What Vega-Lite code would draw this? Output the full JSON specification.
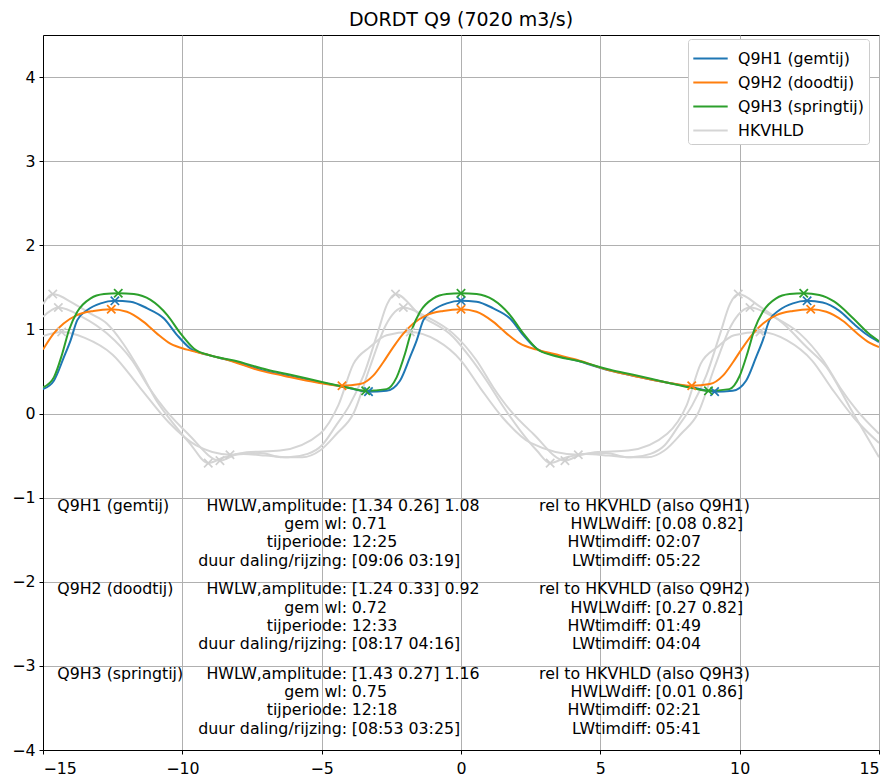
{
  "$schema": "https://vega.github.io/schema/vega-lite/v6.json",
  "width": 836,
  "height": 715,
  "autosize": {"type": "none"},
  "padding": {"left": 43, "top": 35, "right": 11, "bottom": 28},
  "background": "white",
  "title": {"text": "DORDT Q9 (7020 m3/s)", "font": "DejaVu Sans", "fontSize": 19, "fontWeight": "normal", "color": "black", "offset": 5},
  "config": {
    "view": {"stroke": "black", "strokeWidth": 1},
    "axis": {"domainColor": "black", "domainWidth": 1, "tickColor": "black", "tickWidth": 1, "tickSize": 4, "labelColor": "black", "labelFont": "DejaVu Sans", "labelFontSize": 15.8, "labelPadding": 4, "gridColor": "#b0b0b0", "gridWidth": 1, "title": null},
    "axisX": {"labelPadding": 7},
    "legend": {"orient": "none", "legendX": 645, "legendY": 4, "labelFont": "DejaVu Sans", "labelFontSize": 15.8, "labelColor": "black", "symbolType": "M-1.3,0H1.3", "symbolStrokeWidth": 2, "symbolSize": 700, "symbolOffset": 3, "fillColor": "white", "strokeColor": "#cccccc", "cornerRadius": 3, "padding": 5, "rowPadding": 1, "labelOffset": 13, "title": null}
  },
  "datasets": {
    "lines": [
      {"s":"Q1","label":"Q9H1 (gemtij)","x":-15.0,"y":0.29},{"s":"Q1","label":"Q9H1 (gemtij)","x":-14.61,"y":0.39},{"s":"Q1","label":"Q9H1 (gemtij)","x":-14.25,"y":0.67},{"s":"Q1","label":"Q9H1 (gemtij)","x":-14.01,"y":0.87},{"s":"Q1","label":"Q9H1 (gemtij)","x":-13.77,"y":1.11},{"s":"Q1","label":"Q9H1 (gemtij)","x":-13.41,"y":1.23},{"s":"Q1","label":"Q9H1 (gemtij)","x":-12.93,"y":1.31},{"s":"Q1","label":"Q9H1 (gemtij)","x":-12.42,"y":1.34},{"s":"Q1","label":"Q9H1 (gemtij)","x":-11.86,"y":1.33},{"s":"Q1","label":"Q9H1 (gemtij)","x":-11.26,"y":1.25},{"s":"Q1","label":"Q9H1 (gemtij)","x":-10.66,"y":1.13},{"s":"Q1","label":"Q9H1 (gemtij)","x":-10.18,"y":0.93},{"s":"Q1","label":"Q9H1 (gemtij)","x":-9.70,"y":0.77},{"s":"Q1","label":"Q9H1 (gemtij)","x":-9.11,"y":0.70},{"s":"Q1","label":"Q9H1 (gemtij)","x":-8.27,"y":0.63},{"s":"Q1","label":"Q9H1 (gemtij)","x":-7.07,"y":0.51},{"s":"Q1","label":"Q9H1 (gemtij)","x":-6.24,"y":0.45},{"s":"Q1","label":"Q9H1 (gemtij)","x":-5.04,"y":0.37},{"s":"Q1","label":"Q9H1 (gemtij)","x":-4.08,"y":0.31},{"s":"Q1","label":"Q9H1 (gemtij)","x":-3.32,"y":0.26},{"s":"Q1","label":"Q9H1 (gemtij)","x":-2.67,"y":0.27},{"s":"Q1","label":"Q9H1 (gemtij)","x":-2.19,"y":0.39},{"s":"Q1","label":"Q9H1 (gemtij)","x":-1.83,"y":0.67},{"s":"Q1","label":"Q9H1 (gemtij)","x":-1.59,"y":0.87},{"s":"Q1","label":"Q9H1 (gemtij)","x":-1.35,"y":1.11},{"s":"Q1","label":"Q9H1 (gemtij)","x":-0.99,"y":1.23},{"s":"Q1","label":"Q9H1 (gemtij)","x":-0.51,"y":1.31},{"s":"Q1","label":"Q9H1 (gemtij)","x":0,"y":1.34},{"s":"Q1","label":"Q9H1 (gemtij)","x":0.56,"y":1.33},{"s":"Q1","label":"Q9H1 (gemtij)","x":1.16,"y":1.25},{"s":"Q1","label":"Q9H1 (gemtij)","x":1.76,"y":1.13},{"s":"Q1","label":"Q9H1 (gemtij)","x":2.24,"y":0.93},{"s":"Q1","label":"Q9H1 (gemtij)","x":2.72,"y":0.77},{"s":"Q1","label":"Q9H1 (gemtij)","x":3.31,"y":0.70},{"s":"Q1","label":"Q9H1 (gemtij)","x":4.15,"y":0.63},{"s":"Q1","label":"Q9H1 (gemtij)","x":5.35,"y":0.51},{"s":"Q1","label":"Q9H1 (gemtij)","x":6.18,"y":0.45},{"s":"Q1","label":"Q9H1 (gemtij)","x":7.38,"y":0.37},{"s":"Q1","label":"Q9H1 (gemtij)","x":8.34,"y":0.31},{"s":"Q1","label":"Q9H1 (gemtij)","x":9.1,"y":0.26},{"s":"Q1","label":"Q9H1 (gemtij)","x":9.75,"y":0.27},{"s":"Q1","label":"Q9H1 (gemtij)","x":10.23,"y":0.39},{"s":"Q1","label":"Q9H1 (gemtij)","x":10.59,"y":0.67},{"s":"Q1","label":"Q9H1 (gemtij)","x":10.83,"y":0.87},{"s":"Q1","label":"Q9H1 (gemtij)","x":11.07,"y":1.11},{"s":"Q1","label":"Q9H1 (gemtij)","x":11.43,"y":1.23},{"s":"Q1","label":"Q9H1 (gemtij)","x":11.91,"y":1.31},{"s":"Q1","label":"Q9H1 (gemtij)","x":12.42,"y":1.34},{"s":"Q1","label":"Q9H1 (gemtij)","x":12.98,"y":1.32},{"s":"Q1","label":"Q9H1 (gemtij)","x":13.58,"y":1.22},{"s":"Q1","label":"Q9H1 (gemtij)","x":14.08,"y":1.07},{"s":"Q1","label":"Q9H1 (gemtij)","x":14.6,"y":0.93},{"s":"Q1","label":"Q9H1 (gemtij)","x":15.0,"y":0.85},
      {"s":"Q2","label":"Q9H2 (doodtij)","x":-15.0,"y":0.76},{"s":"Q2","label":"Q9H2 (doodtij)","x":-14.62,"y":0.95},{"s":"Q2","label":"Q9H2 (doodtij)","x":-14.26,"y":1.07},{"s":"Q2","label":"Q9H2 (doodtij)","x":-13.78,"y":1.17},{"s":"Q2","label":"Q9H2 (doodtij)","x":-13.19,"y":1.22},{"s":"Q2","label":"Q9H2 (doodtij)","x":-12.55,"y":1.24},{"s":"Q2","label":"Q9H2 (doodtij)","x":-11.99,"y":1.21},{"s":"Q2","label":"Q9H2 (doodtij)","x":-11.39,"y":1.09},{"s":"Q2","label":"Q9H2 (doodtij)","x":-10.91,"y":0.95},{"s":"Q2","label":"Q9H2 (doodtij)","x":-10.43,"y":0.83},{"s":"Q2","label":"Q9H2 (doodtij)","x":-9.83,"y":0.76},{"s":"Q2","label":"Q9H2 (doodtij)","x":-9.24,"y":0.71},{"s":"Q2","label":"Q9H2 (doodtij)","x":-8.40,"y":0.64},{"s":"Q2","label":"Q9H2 (doodtij)","x":-7.20,"y":0.51},{"s":"Q2","label":"Q9H2 (doodtij)","x":-6.37,"y":0.45},{"s":"Q2","label":"Q9H2 (doodtij)","x":-5.17,"y":0.37},{"s":"Q2","label":"Q9H2 (doodtij)","x":-4.27,"y":0.33},{"s":"Q2","label":"Q9H2 (doodtij)","x":-3.62,"y":0.35},{"s":"Q2","label":"Q9H2 (doodtij)","x":-3.15,"y":0.45},{"s":"Q2","label":"Q9H2 (doodtij)","x":-2.79,"y":0.61},{"s":"Q2","label":"Q9H2 (doodtij)","x":-2.43,"y":0.79},{"s":"Q2","label":"Q9H2 (doodtij)","x":-2.07,"y":0.95},{"s":"Q2","label":"Q9H2 (doodtij)","x":-1.71,"y":1.07},{"s":"Q2","label":"Q9H2 (doodtij)","x":-1.23,"y":1.17},{"s":"Q2","label":"Q9H2 (doodtij)","x":-0.64,"y":1.22},{"s":"Q2","label":"Q9H2 (doodtij)","x":0,"y":1.24},{"s":"Q2","label":"Q9H2 (doodtij)","x":0.56,"y":1.21},{"s":"Q2","label":"Q9H2 (doodtij)","x":1.16,"y":1.09},{"s":"Q2","label":"Q9H2 (doodtij)","x":1.64,"y":0.95},{"s":"Q2","label":"Q9H2 (doodtij)","x":2.12,"y":0.83},{"s":"Q2","label":"Q9H2 (doodtij)","x":2.72,"y":0.76},{"s":"Q2","label":"Q9H2 (doodtij)","x":3.31,"y":0.71},{"s":"Q2","label":"Q9H2 (doodtij)","x":4.15,"y":0.64},{"s":"Q2","label":"Q9H2 (doodtij)","x":5.35,"y":0.51},{"s":"Q2","label":"Q9H2 (doodtij)","x":6.18,"y":0.45},{"s":"Q2","label":"Q9H2 (doodtij)","x":7.38,"y":0.37},{"s":"Q2","label":"Q9H2 (doodtij)","x":8.28,"y":0.33},{"s":"Q2","label":"Q9H2 (doodtij)","x":8.93,"y":0.35},{"s":"Q2","label":"Q9H2 (doodtij)","x":9.40,"y":0.45},{"s":"Q2","label":"Q9H2 (doodtij)","x":9.76,"y":0.61},{"s":"Q2","label":"Q9H2 (doodtij)","x":10.12,"y":0.79},{"s":"Q2","label":"Q9H2 (doodtij)","x":10.48,"y":0.95},{"s":"Q2","label":"Q9H2 (doodtij)","x":10.84,"y":1.07},{"s":"Q2","label":"Q9H2 (doodtij)","x":11.32,"y":1.17},{"s":"Q2","label":"Q9H2 (doodtij)","x":11.91,"y":1.22},{"s":"Q2","label":"Q9H2 (doodtij)","x":12.55,"y":1.24},{"s":"Q2","label":"Q9H2 (doodtij)","x":13.11,"y":1.21},{"s":"Q2","label":"Q9H2 (doodtij)","x":13.71,"y":1.10},{"s":"Q2","label":"Q9H2 (doodtij)","x":14.19,"y":0.96},{"s":"Q2","label":"Q9H2 (doodtij)","x":14.67,"y":0.84},{"s":"Q2","label":"Q9H2 (doodtij)","x":15.0,"y":0.79},
      {"s":"Q3","label":"Q9H3 (springtij)","x":-15.0,"y":0.31},{"s":"Q3","label":"Q9H3 (springtij)","x":-14.61,"y":0.43},{"s":"Q3","label":"Q9H3 (springtij)","x":-14.31,"y":0.71},{"s":"Q3","label":"Q9H3 (springtij)","x":-14.07,"y":0.99},{"s":"Q3","label":"Q9H3 (springtij)","x":-13.77,"y":1.21},{"s":"Q3","label":"Q9H3 (springtij)","x":-13.29,"y":1.37},{"s":"Q3","label":"Q9H3 (springtij)","x":-12.81,"y":1.42},{"s":"Q3","label":"Q9H3 (springtij)","x":-12.3,"y":1.43},{"s":"Q3","label":"Q9H3 (springtij)","x":-11.74,"y":1.42},{"s":"Q3","label":"Q9H3 (springtij)","x":-11.14,"y":1.35},{"s":"Q3","label":"Q9H3 (springtij)","x":-10.54,"y":1.17},{"s":"Q3","label":"Q9H3 (springtij)","x":-10.06,"y":0.95},{"s":"Q3","label":"Q9H3 (springtij)","x":-9.58,"y":0.77},{"s":"Q3","label":"Q9H3 (springtij)","x":-8.99,"y":0.69},{"s":"Q3","label":"Q9H3 (springtij)","x":-8.15,"y":0.63},{"s":"Q3","label":"Q9H3 (springtij)","x":-6.95,"y":0.52},{"s":"Q3","label":"Q9H3 (springtij)","x":-6.12,"y":0.46},{"s":"Q3","label":"Q9H3 (springtij)","x":-4.92,"y":0.37},{"s":"Q3","label":"Q9H3 (springtij)","x":-3.96,"y":0.30},{"s":"Q3","label":"Q9H3 (springtij)","x":-3.42,"y":0.27},{"s":"Q3","label":"Q9H3 (springtij)","x":-2.67,"y":0.29},{"s":"Q3","label":"Q9H3 (springtij)","x":-2.31,"y":0.43},{"s":"Q3","label":"Q9H3 (springtij)","x":-2.01,"y":0.71},{"s":"Q3","label":"Q9H3 (springtij)","x":-1.77,"y":0.99},{"s":"Q3","label":"Q9H3 (springtij)","x":-1.47,"y":1.21},{"s":"Q3","label":"Q9H3 (springtij)","x":-0.99,"y":1.37},{"s":"Q3","label":"Q9H3 (springtij)","x":-0.51,"y":1.42},{"s":"Q3","label":"Q9H3 (springtij)","x":0,"y":1.43},{"s":"Q3","label":"Q9H3 (springtij)","x":0.56,"y":1.42},{"s":"Q3","label":"Q9H3 (springtij)","x":1.16,"y":1.35},{"s":"Q3","label":"Q9H3 (springtij)","x":1.76,"y":1.17},{"s":"Q3","label":"Q9H3 (springtij)","x":2.24,"y":0.95},{"s":"Q3","label":"Q9H3 (springtij)","x":2.72,"y":0.77},{"s":"Q3","label":"Q9H3 (springtij)","x":3.31,"y":0.69},{"s":"Q3","label":"Q9H3 (springtij)","x":4.15,"y":0.63},{"s":"Q3","label":"Q9H3 (springtij)","x":5.35,"y":0.52},{"s":"Q3","label":"Q9H3 (springtij)","x":6.18,"y":0.46},{"s":"Q3","label":"Q9H3 (springtij)","x":7.38,"y":0.37},{"s":"Q3","label":"Q9H3 (springtij)","x":8.34,"y":0.30},{"s":"Q3","label":"Q9H3 (springtij)","x":8.88,"y":0.27},{"s":"Q3","label":"Q9H3 (springtij)","x":9.63,"y":0.29},{"s":"Q3","label":"Q9H3 (springtij)","x":9.99,"y":0.44},{"s":"Q3","label":"Q9H3 (springtij)","x":10.29,"y":0.73},{"s":"Q3","label":"Q9H3 (springtij)","x":10.53,"y":1.0},{"s":"Q3","label":"Q9H3 (springtij)","x":10.83,"y":1.21},{"s":"Q3","label":"Q9H3 (springtij)","x":11.31,"y":1.37},{"s":"Q3","label":"Q9H3 (springtij)","x":11.79,"y":1.42},{"s":"Q3","label":"Q9H3 (springtij)","x":12.3,"y":1.43},{"s":"Q3","label":"Q9H3 (springtij)","x":12.86,"y":1.41},{"s":"Q3","label":"Q9H3 (springtij)","x":13.4,"y":1.33},{"s":"Q3","label":"Q9H3 (springtij)","x":14.08,"y":1.13},{"s":"Q3","label":"Q9H3 (springtij)","x":14.6,"y":0.96},{"s":"Q3","label":"Q9H3 (springtij)","x":15.0,"y":0.86},
      {"s":"R1","label":"HKVHLD","x":-15.0,"y":1.15},{"s":"R1","label":"HKVHLD","x":-14.45,"y":1.26},{"s":"R1","label":"HKVHLD","x":-13.6,"y":1.15},{"s":"R1","label":"HKVHLD","x":-12.7,"y":0.95},{"s":"R1","label":"HKVHLD","x":-11.8,"y":0.63},{"s":"R1","label":"HKVHLD","x":-11.2,"y":0.31},{"s":"R1","label":"HKVHLD","x":-10.6,"y":0.04},{"s":"R1","label":"HKVHLD","x":-9.8,"y":-0.24},{"s":"R1","label":"HKVHLD","x":-8.65,"y":-0.56},{"s":"R1","label":"HKVHLD","x":-8.0,"y":-0.48},{"s":"R1","label":"HKVHLD","x":-7.2,"y":-0.47},{"s":"R1","label":"HKVHLD","x":-6.4,"y":-0.52},{"s":"R1","label":"HKVHLD","x":-5.7,"y":-0.52},{"s":"R1","label":"HKVHLD","x":-5.06,"y":-0.44},{"s":"R1","label":"HKVHLD","x":-4.46,"y":-0.24},{"s":"R1","label":"HKVHLD","x":-3.86,"y":0.0},{"s":"R1","label":"HKVHLD","x":-3.27,"y":0.55},{"s":"R1","label":"HKVHLD","x":-2.7,"y":1.05},{"s":"R1","label":"HKVHLD","x":-2.07,"y":1.26},{"s":"R1","label":"HKVHLD","x":-1.23,"y":1.15},{"s":"R1","label":"HKVHLD","x":-0.28,"y":0.95},{"s":"R1","label":"HKVHLD","x":0.56,"y":0.63},{"s":"R1","label":"HKVHLD","x":1.16,"y":0.31},{"s":"R1","label":"HKVHLD","x":1.76,"y":0.04},{"s":"R1","label":"HKVHLD","x":2.59,"y":-0.24},{"s":"R1","label":"HKVHLD","x":3.73,"y":-0.56},{"s":"R1","label":"HKVHLD","x":4.4,"y":-0.48},{"s":"R1","label":"HKVHLD","x":5.2,"y":-0.47},{"s":"R1","label":"HKVHLD","x":6.0,"y":-0.52},{"s":"R1","label":"HKVHLD","x":6.7,"y":-0.52},{"s":"R1","label":"HKVHLD","x":7.3,"y":-0.44},{"s":"R1","label":"HKVHLD","x":7.9,"y":-0.24},{"s":"R1","label":"HKVHLD","x":8.5,"y":0.0},{"s":"R1","label":"HKVHLD","x":9.1,"y":0.55},{"s":"R1","label":"HKVHLD","x":9.7,"y":1.05},{"s":"R1","label":"HKVHLD","x":10.37,"y":1.26},{"s":"R1","label":"HKVHLD","x":11.21,"y":1.15},{"s":"R1","label":"HKVHLD","x":12.16,"y":0.95},{"s":"R1","label":"HKVHLD","x":13.0,"y":0.63},{"s":"R1","label":"HKVHLD","x":13.6,"y":0.31},{"s":"R1","label":"HKVHLD","x":14.2,"y":0.04},{"s":"R1","label":"HKVHLD","x":15.0,"y":-0.24},
      {"s":"R2","label":"HKVHLD","x":-15.0,"y":0.92},{"s":"R2","label":"HKVHLD","x":-14.33,"y":0.97},{"s":"R2","label":"HKVHLD","x":-13.5,"y":0.9},{"s":"R2","label":"HKVHLD","x":-12.5,"y":0.7},{"s":"R2","label":"HKVHLD","x":-11.5,"y":0.3},{"s":"R2","label":"HKVHLD","x":-10.5,"y":-0.1},{"s":"R2","label":"HKVHLD","x":-9.5,"y":-0.38},{"s":"R2","label":"HKVHLD","x":-8.29,"y":-0.49},{"s":"R2","label":"HKVHLD","x":-7.69,"y":-0.46},{"s":"R2","label":"HKVHLD","x":-6.49,"y":-0.44},{"s":"R2","label":"HKVHLD","x":-5.06,"y":-0.24},{"s":"R2","label":"HKVHLD","x":-4.4,"y":0.1},{"s":"R2","label":"HKVHLD","x":-3.86,"y":0.59},{"s":"R2","label":"HKVHLD","x":-3.27,"y":0.79},{"s":"R2","label":"HKVHLD","x":-2.67,"y":0.93},{"s":"R2","label":"HKVHLD","x":-1.82,"y":0.97},{"s":"R2","label":"HKVHLD","x":-0.87,"y":0.87},{"s":"R2","label":"HKVHLD","x":0.0,"y":0.63},{"s":"R2","label":"HKVHLD","x":0.7,"y":0.3},{"s":"R2","label":"HKVHLD","x":1.5,"y":-0.05},{"s":"R2","label":"HKVHLD","x":2.5,"y":-0.35},{"s":"R2","label":"HKVHLD","x":4.21,"y":-0.49},{"s":"R2","label":"HKVHLD","x":4.8,"y":-0.46},{"s":"R2","label":"HKVHLD","x":6.0,"y":-0.44},{"s":"R2","label":"HKVHLD","x":7.4,"y":-0.24},{"s":"R2","label":"HKVHLD","x":8.1,"y":0.1},{"s":"R2","label":"HKVHLD","x":8.6,"y":0.59},{"s":"R2","label":"HKVHLD","x":9.2,"y":0.79},{"s":"R2","label":"HKVHLD","x":9.8,"y":0.93},{"s":"R2","label":"HKVHLD","x":10.73,"y":0.97},{"s":"R2","label":"HKVHLD","x":11.7,"y":0.87},{"s":"R2","label":"HKVHLD","x":12.6,"y":0.63},{"s":"R2","label":"HKVHLD","x":13.3,"y":0.3},{"s":"R2","label":"HKVHLD","x":14.1,"y":-0.05},{"s":"R2","label":"HKVHLD","x":15.0,"y":-0.35},
      {"s":"R3","label":"HKVHLD","x":-15.0,"y":1.30},{"s":"R3","label":"HKVHLD","x":-14.65,"y":1.42},{"s":"R3","label":"HKVHLD","x":-13.91,"y":1.31},{"s":"R3","label":"HKVHLD","x":-13.31,"y":1.19},{"s":"R3","label":"HKVHLD","x":-12.71,"y":1.07},{"s":"R3","label":"HKVHLD","x":-12.12,"y":0.83},{"s":"R3","label":"HKVHLD","x":-11.52,"y":0.51},{"s":"R3","label":"HKVHLD","x":-10.92,"y":0.15},{"s":"R3","label":"HKVHLD","x":-10.32,"y":-0.12},{"s":"R3","label":"HKVHLD","x":-9.72,"y":-0.36},{"s":"R3","label":"HKVHLD","x":-9.07,"y":-0.59},{"s":"R3","label":"HKVHLD","x":-8.5,"y":-0.52},{"s":"R3","label":"HKVHLD","x":-7.8,"y":-0.48},{"s":"R3","label":"HKVHLD","x":-7.0,"y":-0.50},{"s":"R3","label":"HKVHLD","x":-6.2,"y":-0.52},{"s":"R3","label":"HKVHLD","x":-5.5,"y":-0.48},{"s":"R3","label":"HKVHLD","x":-5.0,"y":-0.38},{"s":"R3","label":"HKVHLD","x":-4.5,"y":-0.15},{"s":"R3","label":"HKVHLD","x":-4.0,"y":0.1},{"s":"R3","label":"HKVHLD","x":-3.5,"y":0.45},{"s":"R3","label":"HKVHLD","x":-3.0,"y":0.95},{"s":"R3","label":"HKVHLD","x":-2.65,"y":1.3},{"s":"R3","label":"HKVHLD","x":-2.35,"y":1.42},{"s":"R3","label":"HKVHLD","x":-1.47,"y":1.17},{"s":"R3","label":"HKVHLD","x":-0.28,"y":0.91},{"s":"R3","label":"HKVHLD","x":0.32,"y":0.67},{"s":"R3","label":"HKVHLD","x":0.92,"y":0.39},{"s":"R3","label":"HKVHLD","x":1.52,"y":0.08},{"s":"R3","label":"HKVHLD","x":2.12,"y":-0.2},{"s":"R3","label":"HKVHLD","x":2.72,"y":-0.44},{"s":"R3","label":"HKVHLD","x":3.2,"y":-0.59},{"s":"R3","label":"HKVHLD","x":3.8,"y":-0.52},{"s":"R3","label":"HKVHLD","x":4.5,"y":-0.48},{"s":"R3","label":"HKVHLD","x":5.3,"y":-0.50},{"s":"R3","label":"HKVHLD","x":6.1,"y":-0.52},{"s":"R3","label":"HKVHLD","x":6.8,"y":-0.48},{"s":"R3","label":"HKVHLD","x":7.3,"y":-0.38},{"s":"R3","label":"HKVHLD","x":7.8,"y":-0.15},{"s":"R3","label":"HKVHLD","x":8.3,"y":0.1},{"s":"R3","label":"HKVHLD","x":8.8,"y":0.45},{"s":"R3","label":"HKVHLD","x":9.3,"y":0.95},{"s":"R3","label":"HKVHLD","x":9.65,"y":1.3},{"s":"R3","label":"HKVHLD","x":9.95,"y":1.42},{"s":"R3","label":"HKVHLD","x":10.73,"y":1.27},{"s":"R3","label":"HKVHLD","x":11.56,"y":1.07},{"s":"R3","label":"HKVHLD","x":12.4,"y":0.79},{"s":"R3","label":"HKVHLD","x":13.12,"y":0.55},{"s":"R3","label":"HKVHLD","x":13.96,"y":0.07},{"s":"R3","label":"HKVHLD","x":15.0,"y":-0.52}
    ],
    "marks": [
      {"label":"Q9H1 (gemtij)","x":-12.42,"y":1.34},{"label":"Q9H1 (gemtij)","x":0,"y":1.34},{"label":"Q9H1 (gemtij)","x":12.42,"y":1.34},{"label":"Q9H1 (gemtij)","x":-3.32,"y":0.26},{"label":"Q9H1 (gemtij)","x":9.1,"y":0.26},
      {"label":"Q9H2 (doodtij)","x":-12.55,"y":1.24},{"label":"Q9H2 (doodtij)","x":0,"y":1.24},{"label":"Q9H2 (doodtij)","x":12.55,"y":1.24},{"label":"Q9H2 (doodtij)","x":-4.27,"y":0.33},{"label":"Q9H2 (doodtij)","x":8.28,"y":0.33},
      {"label":"Q9H3 (springtij)","x":-12.3,"y":1.43},{"label":"Q9H3 (springtij)","x":0,"y":1.43},{"label":"Q9H3 (springtij)","x":12.3,"y":1.43},{"label":"Q9H3 (springtij)","x":-3.42,"y":0.27},{"label":"Q9H3 (springtij)","x":8.88,"y":0.27},
      {"label":"HKVHLD","x":-14.45,"y":1.26},{"label":"HKVHLD","x":-2.07,"y":1.26},{"label":"HKVHLD","x":10.37,"y":1.26},{"label":"HKVHLD","x":-8.65,"y":-0.56},{"label":"HKVHLD","x":3.73,"y":-0.56},
      {"label":"HKVHLD","x":-14.33,"y":0.97},{"label":"HKVHLD","x":-1.82,"y":0.97},{"label":"HKVHLD","x":10.73,"y":0.97},{"label":"HKVHLD","x":-8.29,"y":-0.49},{"label":"HKVHLD","x":4.21,"y":-0.49},
      {"label":"HKVHLD","x":-14.65,"y":1.42},{"label":"HKVHLD","x":-2.35,"y":1.42},{"label":"HKVHLD","x":9.95,"y":1.42},{"label":"HKVHLD","x":-9.07,"y":-0.59},{"label":"HKVHLD","x":3.2,"y":-0.59}
    ],
    "notes": [
      {"c":"name","x":-14.49,"y":-1.095,"t":"Q9H1 (gemtij)"},
      {"c":"name","x":-14.49,"y":-2.087,"t":"Q9H2 (doodtij)"},
      {"c":"name","x":-14.49,"y":-3.092,"t":"Q9H3 (springtij)"},
      {"c":"key","x":-4.09,"y":-1.095,"t":"HWLW,amplitude:"},{"c":"key","x":-4.09,"y":-1.313,"t":"gem wl:"},{"c":"key","x":-4.09,"y":-1.532,"t":"tijperiode:"},{"c":"key","x":-4.09,"y":-1.75,"t":"duur daling/rijzing:"},
      {"c":"key","x":-4.09,"y":-2.087,"t":"HWLW,amplitude:"},{"c":"key","x":-4.09,"y":-2.306,"t":"gem wl:"},{"c":"key","x":-4.09,"y":-2.524,"t":"tijperiode:"},{"c":"key","x":-4.09,"y":-2.742,"t":"duur daling/rijzing:"},
      {"c":"key","x":-4.09,"y":-3.092,"t":"HWLW,amplitude:"},{"c":"key","x":-4.09,"y":-3.31,"t":"gem wl:"},{"c":"key","x":-4.09,"y":-3.528,"t":"tijperiode:"},{"c":"key","x":-4.09,"y":-3.746,"t":"duur daling/rijzing:"},
      {"c":"val","x":-3.92,"y":-1.095,"t":"[1.34 0.26] 1.08"},{"c":"val","x":-3.92,"y":-1.313,"t":"0.71"},{"c":"val","x":-3.92,"y":-1.532,"t":"12:25"},{"c":"val","x":-3.92,"y":-1.75,"t":"[09:06 03:19]"},
      {"c":"val","x":-3.92,"y":-2.087,"t":"[1.24 0.33] 0.92"},{"c":"val","x":-3.92,"y":-2.306,"t":"0.72"},{"c":"val","x":-3.92,"y":-2.524,"t":"12:33"},{"c":"val","x":-3.92,"y":-2.742,"t":"[08:17 04:16]"},
      {"c":"val","x":-3.92,"y":-3.092,"t":"[1.43 0.27] 1.16"},{"c":"val","x":-3.92,"y":-3.31,"t":"0.75"},{"c":"val","x":-3.92,"y":-3.528,"t":"12:18"},{"c":"val","x":-3.92,"y":-3.746,"t":"[08:53 03:25]"},
      {"c":"hdr","x":2.80,"y":-1.095,"t":"rel to HKVHLD (also Q9H1)"},{"c":"hdr","x":2.80,"y":-2.087,"t":"rel to HKVHLD (also Q9H2)"},{"c":"hdr","x":2.80,"y":-3.092,"t":"rel to HKVHLD (also Q9H3)"},
      {"c":"key","x":6.84,"y":-1.313,"t":"HWLWdiff:"},{"c":"key","x":6.84,"y":-1.532,"t":"HWtimdiff:"},{"c":"key","x":6.84,"y":-1.75,"t":"LWtimdiff:"},
      {"c":"key","x":6.84,"y":-2.306,"t":"HWLWdiff:"},{"c":"key","x":6.84,"y":-2.524,"t":"HWtimdiff:"},{"c":"key","x":6.84,"y":-2.742,"t":"LWtimdiff:"},
      {"c":"key","x":6.84,"y":-3.31,"t":"HWLWdiff:"},{"c":"key","x":6.84,"y":-3.528,"t":"HWtimdiff:"},{"c":"key","x":6.84,"y":-3.746,"t":"LWtimdiff:"},
      {"c":"val","x":6.98,"y":-1.313,"t":"[0.08 0.82]"},{"c":"val","x":6.98,"y":-1.532,"t":"02:07"},{"c":"val","x":6.98,"y":-1.75,"t":"05:22"},
      {"c":"val","x":6.98,"y":-2.306,"t":"[0.27 0.82]"},{"c":"val","x":6.98,"y":-2.524,"t":"01:49"},{"c":"val","x":6.98,"y":-2.742,"t":"04:04"},
      {"c":"val","x":6.98,"y":-3.31,"t":"[0.01 0.86]"},{"c":"val","x":6.98,"y":-3.528,"t":"02:21"},{"c":"val","x":6.98,"y":-3.746,"t":"05:41"}
    ]
  },
  "encoding": {
    "x": {"field": "x", "type": "quantitative", "scale": {"domain": [-15, 15], "nice": false, "zero": false}, "axis": {"values": [-15, -10, -5, 0, 5, 10, 15], "grid": true}},
    "y": {"field": "y", "type": "quantitative", "scale": {"domain": [-4, 4.5], "nice": false, "zero": false}, "axis": {"values": [-4, -3, -2, -1, 0, 1, 2, 3, 4], "grid": true}}
  },
  "layer": [
    {
      "data": {"name": "lines"},
      "transform": [{"filter": "datum.label === 'HKVHLD'"}],
      "mark": {"type": "line", "interpolate": "monotone", "strokeWidth": 2, "clip": true},
      "encoding": {
        "color": {"field": "label", "type": "nominal", "scale": {"domain": ["Q9H1 (gemtij)", "Q9H2 (doodtij)", "Q9H3 (springtij)", "HKVHLD"], "range": ["#1f77b4", "#ff7f0e", "#2ca02c", "#d5d5d5"]}},
        "detail": {"field": "s"}
      }
    },
    {
      "data": {"name": "lines"},
      "transform": [{"filter": "datum.label !== 'HKVHLD'"}],
      "mark": {"type": "line", "interpolate": "monotone", "strokeWidth": 2, "clip": true},
      "encoding": {
        "color": {"field": "label", "type": "nominal", "scale": {"domain": ["Q9H1 (gemtij)", "Q9H2 (doodtij)", "Q9H3 (springtij)", "HKVHLD"], "range": ["#1f77b4", "#ff7f0e", "#2ca02c", "#d5d5d5"]}},
        "detail": {"field": "s"}
      }
    },
    {
      "data": {"name": "marks"},
      "mark": {"type": "point", "shape": "M-1,-1L1,1M-1,1L1,-1", "filled": false, "size": 70, "strokeWidth": 1.7, "opacity": 1},
      "encoding": {
        "stroke": {"condition": [
          {"test": "datum.label === 'Q9H1 (gemtij)'", "value": "#1f77b4"},
          {"test": "datum.label === 'Q9H2 (doodtij)'", "value": "#ff7f0e"},
          {"test": "datum.label === 'Q9H3 (springtij)'", "value": "#2ca02c"}
        ], "value": "#d0d0d0"}
      }
    },
    {
      "mark": {"type": "rule", "color": "black", "strokeWidth": 2.2, "strokeDash": [9.5, 4.5]},
      "encoding": {"y": {"datum": 0}, "x": null}
    },
    {
      "data": {"name": "notes"},
      "transform": [{"filter": "datum.c === 'name' || datum.c === 'hdr'"}],
      "mark": {"type": "text", "align": "left", "baseline": "middle", "font": "DejaVu Sans", "fontSize": 15.8, "color": "black"},
      "encoding": {"text": {"field": "t"}}
    },
    {
      "data": {"name": "notes"},
      "transform": [{"filter": "datum.c === 'key'"}],
      "mark": {"type": "text", "align": "right", "baseline": "middle", "font": "DejaVu Sans", "fontSize": 15.8, "color": "black"},
      "encoding": {"text": {"field": "t"}}
    },
    {
      "data": {"name": "notes"},
      "transform": [{"filter": "datum.c === 'val'"}],
      "mark": {"type": "text", "align": "left", "baseline": "middle", "font": "DejaVu Sans", "fontSize": 15.8, "color": "black"},
      "encoding": {"text": {"field": "t"}}
    }
  ]
}
